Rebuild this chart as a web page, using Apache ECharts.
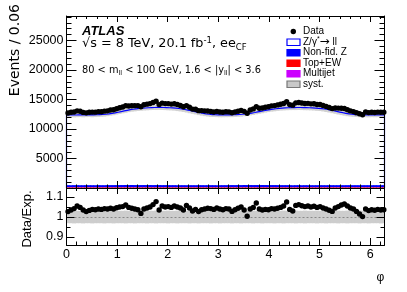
<!DOCTYPE html>
<html><head><meta charset="utf-8">
<script src="https://cdn.jsdelivr.net/npm/echarts/dist/echarts.min.js"></script>
<style>html,body{margin:0;padding:0;background:#fff}#c{width:407px;height:292px}</style>
</head><body><div id="c"></div>
<script>
// ---------------- data ----------------
const BIN_W = 0.06;
const X_MAX = 6.2832;
const X_TICKS = [0, 1, 2, 3, 4, 5, 6];
const Y_TICKS = [5000, 10000, 15000, 20000, 25000];
const R_TICKS = [0.9, 1.0, 1.1];

const dataEvents = [
12714,12834,12890,13071,13006,12813,12735,12830,12861,12857,12938,12933,13025,13073,13207,
13250,13431,13598,13739,13960,13907,13937,13957,13965,13763,14102,14212,14301,14486,14701,
14138,14390,14301,14307,14221,14274,14144,13993,13766,13966,13679,13369,13359,13105,13116,
13073,13050,12973,12892,12958,12886,12826,12910,12896,12757,12877,13008,13125,12989,12670,
13208,13404,13792,13510,13548,13691,13758,13921,13967,14084,14190,14327,14620,14138,14039,
14431,14486,14393,14328,14348,14259,14282,14158,14160,13993,13832,13649,13457,13564,13539,
13526,13483,13261,13063,12948,12768,12586,12415,12875,12776,12836,12801,12861,12834,12836];

const expTotal = [
12380,12400,12370,12390,12410,12380,12400,12420,12390,12410,12440,12460,12500,12570,12650,
12740,12840,12950,13060,13170,13270,13350,13420,13480,13520,13560,13600,13620,13640,13650,
13660,13640,13620,13600,13570,13530,13470,13390,13300,13200,13090,12980,12870,12760,12660,
12570,12500,12450,12420,12400,12390,12380,12390,12400,12410,12430,12460,12500,12550,12620,
12700,12790,12890,12990,13090,13190,13280,13360,13430,13490,13540,13580,13600,13620,13630,
13640,13640,13630,13620,13600,13580,13550,13510,13460,13390,13300,13200,13090,12980,12870,
12760,12660,12570,12500,12450,12420,12400,12390,12380,12380,12390,12380,12390,12400,12390];

const nonFidZ = [
330,326,334,328,331,325,333,329,327,332,336,330,328,334,338,
341,345,348,350,352,349,353,351,348,350,354,352,349,347,350,
346,343,340,338,335,333,330,328,331,326,329,333,327,330,332,
328,331,334,329,326,330,333,335,338,342,345,349,351,350,353,
352,348,351,349,352,350,347,349,345,342,338,336,333,330,328,
331,327,329,332,330,326,329,333,328,331,327,330,332,329,331,
328,330,333,329,332,330,327,331,329,330,328,332,330,329,331];

const topEW = [
92,88,90,94,87,91,89,93,90,86,92,88,91,95,89,
90,87,93,91,88,94,90,86,92,89,91,88,93,90,87,
92,89,91,94,88,90,86,93,89,91,88,92,90,87,94,
89,91,88,93,90,86,92,89,91,95,88,90,87,93,91,
88,92,90,86,94,89,91,87,93,90,88,92,89,91,86,
90,93,88,91,89,92,87,90,94,88,91,89,93,90,87,
92,88,91,89,90,93,87,91,88,92,90,89,91,88,90];

const multijet = [
62,58,61,64,57,60,63,59,61,56,62,60,58,63,61,
59,62,57,60,64,58,61,63,59,60,57,62,61,58,64,
60,59,62,57,61,63,58,60,62,59,61,56,60,63,58,
61,59,62,60,57,64,59,61,58,62,60,63,57,61,59,
62,58,60,61,59,63,57,62,60,58,61,59,64,60,57,
61,62,58,60,59,63,61,57,60,62,58,61,59,60,63,
58,61,60,62,59,57,61,60,63,58,60,62,59,61,60];

const ratio = [
1.027,1.035,1.042,1.055,1.048,1.035,1.027,1.033,1.038,1.036,1.040,1.038,1.042,1.040,1.044,
1.040,1.046,1.050,1.052,1.060,1.048,1.044,1.040,1.036,1.018,1.040,1.045,1.050,1.062,1.077,
1.035,1.055,1.050,1.052,1.048,1.055,1.050,1.045,1.035,1.058,1.045,1.030,1.038,1.027,1.036,
1.040,1.044,1.042,1.038,1.045,1.040,1.036,1.042,1.040,1.028,1.036,1.044,1.050,1.035,1.004,
1.040,1.048,1.070,1.040,1.035,1.038,1.036,1.042,1.040,1.044,1.048,1.055,1.075,1.038,1.030,
1.058,1.062,1.056,1.052,1.055,1.050,1.054,1.048,1.052,1.045,1.040,1.034,1.028,1.045,1.052,
1.060,1.065,1.055,1.045,1.040,1.028,1.015,1.002,1.040,1.032,1.036,1.034,1.038,1.035,1.036];

const systRel = [
0.031,0.031,0.032,0.031,0.031,0.032,0.031,0.031,0.032,0.031,0.031,0.031,0.032,0.031,0.031,
0.032,0.031,0.031,0.031,0.032,0.031,0.031,0.032,0.031,0.031,0.031,0.032,0.031,0.031,0.032,
0.031,0.031,0.031,0.032,0.031,0.031,0.032,0.031,0.031,0.031,0.032,0.031,0.031,0.032,0.031,
0.031,0.031,0.032,0.031,0.031,0.032,0.031,0.031,0.031,0.032,0.031,0.031,0.032,0.031,0.031,
0.031,0.032,0.031,0.031,0.032,0.031,0.031,0.031,0.032,0.031,0.031,0.032,0.031,0.031,0.031,
0.032,0.031,0.031,0.032,0.031,0.031,0.031,0.032,0.031,0.031,0.032,0.031,0.031,0.031,0.032,
0.031,0.031,0.032,0.031,0.031,0.031,0.032,0.031,0.031,0.032,0.031,0.031,0.031,0.032,0.031];

// ---------------- helpers ----------------
function stepPts(vals) {
  const pts = [[0, 0]];
  vals.forEach((v, i) => pts.push([i * BIN_W, v]));
  pts.push([X_MAX, vals[vals.length - 1]]);
  pts.push([X_MAX, 0]);
  return pts;
}
function minorVals(lo, hi, step, majors) {
  const out = [];
  const n = Math.round((hi - lo) / step);
  for (let k = 0; k <= n; k++) {
    const v = +(lo + k * step).toFixed(6);
    if (!majors.some(m => Math.abs(m - v) < 1e-9)) out.push(v);
  }
  return out;
}
const FONT = '"Liberation Sans", Arial, Helvetica, sans-serif';
const FONT2 = '"DejaVu Sans", "Liberation Sans", sans-serif';
const Y_MAX = 29150, R_MIN = 0.86, R_MAX = 1.145;
const X_MINOR = minorVals(0.2, 6.2, 0.2, X_TICKS);
const Y_MINOR = minorVals(1000, 29000, 1000, Y_TICKS);
const R_MINOR = [0.95, 1.05];

function axis(dim, grid, pos, min, max, ticks, len, showLine, showLabels, labelFmt) {
  return {
    type: 'value', gridIndex: grid, position: pos, min: min, max: max, z: 10,
    axisLine: { show: showLine, onZero: false, lineStyle: { color: '#000', width: 1 } },
    axisTick: { show: true, inside: true, length: len, customValues: ticks, lineStyle: { color: '#000', width: 1 } },
    axisLabel: showLabels ? { show: true, customValues: ticks, color: '#000', fontFamily: FONT, fontSize: 12.5,
      margin: 3, formatter: labelFmt, hideOverlap: false } : { show: false },
    splitLine: { show: false }, minorTick: { show: false }
  };
}

const xAxes = [
  axis('x', 0, 'bottom', 0, X_MAX, X_TICKS, 7, true, false),
  axis('x', 0, 'bottom', 0, X_MAX, X_MINOR, 3.5, false, false),
  axis('x', 0, 'top', 0, X_MAX, X_TICKS, 6, true, false),
  axis('x', 0, 'top', 0, X_MAX, X_MINOR, 3, false, false),
  axis('x', 1, 'bottom', 0, X_MAX, X_TICKS, 7, true, true, v => String(Math.round(v))),
  axis('x', 1, 'bottom', 0, X_MAX, X_MINOR, 3.5, false, false),
  axis('x', 1, 'top', 0, X_MAX, X_TICKS, 6, true, false),
  axis('x', 1, 'top', 0, X_MAX, X_MINOR, 3, false, false)
];
const yAxes = [
  axis('y', 0, 'left', 0, Y_MAX, Y_TICKS, 10, true, true, v => String(Math.round(v))),
  axis('y', 0, 'left', 0, Y_MAX, Y_MINOR, 5, false, false),
  axis('y', 0, 'right', 0, Y_MAX, Y_TICKS, 10, true, false),
  axis('y', 0, 'right', 0, Y_MAX, Y_MINOR, 5, false, false),
  axis('y', 1, 'left', R_MIN, R_MAX, R_TICKS, 8, true, true, v => (Math.abs(v - 1) < 1e-6 ? '1' : v.toFixed(1))),
  axis('y', 1, 'left', R_MIN, R_MAX, R_MINOR, 4, false, false),
  axis('y', 1, 'right', R_MIN, R_MAX, R_TICKS, 8, true, false),
  axis('y', 1, 'right', R_MIN, R_MAX, R_MINOR, 4, false, false)
];

function dataRender(params, api) {
  const x = api.value(0), y = api.value(1);
  const p = api.coord([x, y]);
  const l = api.coord([x - BIN_W / 2, y]);
  const r = api.coord([Math.min(x + BIN_W / 2, X_MAX), y]);
  return { type: 'group', children: [
    { type: 'line', shape: { x1: l[0], y1: l[1], x2: r[0], y2: r[1] }, style: { stroke: '#000', lineWidth: 1.3 } },
    { type: 'circle', shape: { cx: p[0], cy: p[1], r: 2.7 }, style: { fill: '#000' } }
  ]};
}
function bandRender(color) {
  return function (params, api) {
    const x0 = api.value(0), lo = api.value(1), hi = api.value(2);
    const a = api.coord([x0, hi]);
    const b = api.coord([Math.min(x0 + BIN_W, X_MAX), lo]);
    return { type: 'rect', shape: { x: a[0] - 0.3, y: a[1], width: b[0] - a[0] + 0.6, height: b[1] - a[1] },
      style: { fill: color } };
  };
}

const centers = dataEvents.map((v, i) => (i + 0.5) * BIN_W);
const edges = dataEvents.map((v, i) => i * BIN_W);
const sysMain = expTotal.map((v, i) => [edges[i], v * (1 - systRel[i]), v * (1 + systRel[i])]);
const sysRatio = systRel.map((e, i) => [edges[i], 1 - e, 1 + e]);
const cumMJ = multijet.map((v, i) => [edges[i], 0, v]);
const cumTop = topEW.map((v, i) => [edges[i], multijet[i], multijet[i] + v]);
const cumNF = nonFidZ.map((v, i) => [edges[i], multijet[i] + topEW[i], multijet[i] + topEW[i] + v]);

function bandSeries(name, xi, yi, data, color, z) {
  return { type: 'custom', name: name, xAxisIndex: xi, yAxisIndex: yi, renderItem: bandRender(color),
    animation: false, silent: true, encode: { x: 0, y: [1, 2] }, data: data, z: z };
}

const series = [
  { type: 'line', step: 'end', symbol: 'none', silent: true, animation: false, name: 'Z/γ*→ ll',
    xAxisIndex: 0, yAxisIndex: 0, data: stepPts(expTotal), lineStyle: { width: 0 },
    areaStyle: { color: '#fff', opacity: 1 }, z: 1 },
  bandSeries('syst.', 0, 0, sysMain, '#d2d2d2', 2),
  bandSeries('Multijet', 0, 0, cumMJ, '#cc00ff', 3),
  bandSeries('Top+EW', 0, 0, cumTop, '#ff0000', 3),
  bandSeries('Non-fid. Z', 0, 0, cumNF, '#0000ff', 3),
  { type: 'line', step: 'end', symbol: 'none', silent: true, animation: false,
    xAxisIndex: 0, yAxisIndex: 0, data: stepPts(expTotal), lineStyle: { color: '#0000ff', width: 1.2 }, z: 4 },
  { type: 'custom', name: 'Data', xAxisIndex: 0, yAxisIndex: 0, renderItem: dataRender, animation: false,
    encode: { x: 0, y: 1 }, data: dataEvents.map((v, i) => [centers[i], v]), z: 5 },
  // ratio panel
  bandSeries('systR', 4, 4, sysRatio, '#cdcdcd', 2),
  { type: 'line', symbol: 'none', silent: true, animation: false, xAxisIndex: 4, yAxisIndex: 4, data: [],
    markLine: { silent: true, symbol: 'none', animation: false, label: { show: false },
      lineStyle: { color: '#888', type: [2, 2], width: 1 }, data: [{ yAxis: 1 }] }, z: 3 },
  { type: 'custom', xAxisIndex: 4, yAxisIndex: 4, renderItem: dataRender, animation: false,
    encode: { x: 0, y: 1 }, data: ratio.map((v, i) => [centers[i], v]), z: 5 }
];

// legend + labels
const LX = 287, LT = 303;
const legendRows = [31.5, 42, 52.5, 63, 73.5, 84];
const legendText = ['Data', 'Z/γ{sup|*}{ar|→} ll', 'Non-fid. Z', 'Top+EW', 'Multijet', 'syst.'];
const graphic = [];
graphic.push({ type: 'circle', shape: { cx: 293.3, cy: legendRows[0], r: 2.7 }, style: { fill: '#000' }, z: 20 });
const boxes = [null, { fill: '#fff', stroke: '#0000ff' }, { fill: '#0000ff', stroke: '#0000ff' },
  { fill: '#ff0000', stroke: '#ff0000' }, { fill: '#cc00ff', stroke: '#cc00ff' }, { fill: '#c8c8c8', stroke: '#777' }];
boxes.forEach((b, i) => {
  if (!b) return;
  graphic.push({ type: 'rect', shape: { x: LX, y: legendRows[i] - 3, width: 13, height: 6.5 },
    style: { fill: b.fill, stroke: b.stroke, lineWidth: 1.2 }, z: 20 });
});
legendText.forEach((t, i) => {
  graphic.push({ type: 'text', z: 20, style: { x: LT, y: legendRows[i], text: t, fill: '#000',
    fontSize: 10, fontFamily: FONT, textVerticalAlign: 'middle',
    rich: { sup: { fontSize: 7, fontFamily: FONT, verticalAlign: 'top', lineHeight: 12 },
            ar: { fontSize: 12, fontFamily: FONT2, lineHeight: 12 } } } });
});
graphic.push({ type: 'text', z: 20, style: { x: 82, y: 31, text: 'ATLAS', fill: '#000', fontSize: 13,
  fontStyle: 'italic', fontWeight: 'bold', fontFamily: FONT, textVerticalAlign: 'middle' } });
graphic.push({ type: 'text', z: 20, style: { x: 82, y: 44, text: '√s = 8 TeV, 20.1 fb{sup|-1}, ee{sub|CF}', fill: '#000',
  fontSize: 12.8, fontFamily: FONT2, lineHeight: 16, textVerticalAlign: 'middle',
  rich: { sup: { fontSize: 8.5, fontFamily: FONT2, verticalAlign: 'top', lineHeight: 16 },
          sub: { fontSize: 8.5, fontFamily: FONT2, verticalAlign: 'bottom', lineHeight: 16 } } } });
graphic.push({ type: 'text', z: 20, style: { x: 82, y: 70.5, text: '80 < m{sub|ll} < 100 GeV, 1.6 < |y{sub|ll}| < 3.6', fill: '#000',
  fontSize: 9.8, fontFamily: FONT2, lineHeight: 13, textVerticalAlign: 'middle',
  rich: { sub: { fontSize: 6.5, fontFamily: FONT2, verticalAlign: 'bottom', lineHeight: 13 } } } });
graphic.push({ type: 'text', z: 20, rotation: Math.PI / 2, x: 15.5, y: 4, style: { x: 0, y: 0, text: 'Events / 0.06', fill: '#000',
  fontSize: 14, fontFamily: FONT2, textAlign: 'right', textVerticalAlign: 'middle' } });
graphic.push({ type: 'text', z: 20, rotation: Math.PI / 2, x: 27.5, y: 219, style: { x: 0, y: 0, text: 'Data/Exp.', fill: '#000',
  fontSize: 13, fontFamily: FONT, textAlign: 'center', textVerticalAlign: 'middle' } });
graphic.push({ type: 'text', z: 20, style: { x: 380.5, y: 277.5, text: 'φ', fill: '#000',
  fontSize: 12, fontFamily: FONT, textAlign: 'center', textVerticalAlign: 'middle' } });

const chart = echarts.init(document.getElementById('c'), null, { renderer: 'canvas' });
chart.setOption({
  animation: false,
  backgroundColor: '#fff',
  grid: [
    { left: 66.5, top: 16, width: 318, height: 172, containLabel: false },
    { left: 66.5, top: 188, width: 318, height: 57, containLabel: false }
  ],
  xAxis: xAxes,
  yAxis: yAxes,
  series: series,
  graphic: graphic
});
</script></body></html>
